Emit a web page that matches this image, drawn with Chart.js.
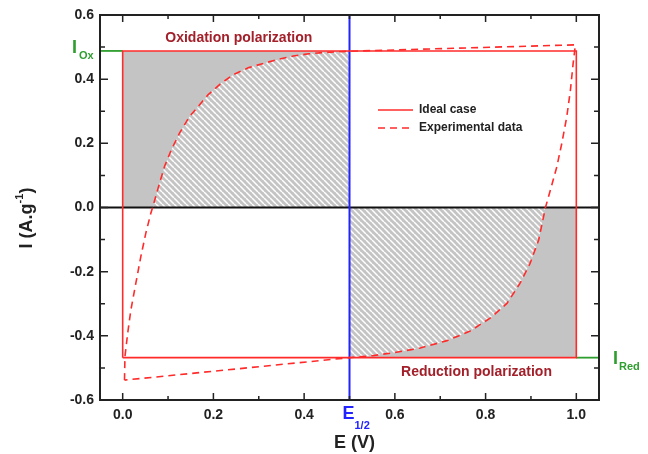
<!DOCTYPE html>
<html>
<head>
<meta charset="utf-8">
<title>Polarization</title>
<script src="https://cdn.jsdelivr.net/npm/chart.js@4.4.1/dist/chart.umd.min.js"></script>
<style>
  body { margin: 0; background: #fff; }
</style>
</head>
<body>
<canvas id="cv" width="648" height="454"></canvas>
<script>
// ideal rectangle (E in V, I in A/g)
var idealE = [0, 0, 1, 1, 0];
var idealI = [-0.468, 0.488, 0.488, -0.468, -0.468];
var iOx = 0.488;
var iRed = -0.468;

// experimental loop
var expE = [0.004, 0.005, 0.011, 0.018, 0.029, 0.040, 0.051, 0.062, 0.066, 0.077, 0.092, 0.107,
            0.125, 0.147, 0.166, 0.188, 0.217, 0.245, 0.278, 0.310, 0.343, 0.376, 0.410, 0.442,
            0.470, 0.500, 0.998, 0.993, 0.987, 0.979, 0.968, 0.957, 0.943, 0.932, 0.917, 0.898,
            0.876, 0.847, 0.810, 0.766, 0.715, 0.656, 0.600, 0.550, 0.500, 0.004];
var expI = [-0.538, -0.465, -0.392, -0.320, -0.236, -0.153, -0.080, -0.018, 0.000, 0.055, 0.127, 0.179,
            0.231, 0.283, 0.314, 0.351, 0.387, 0.415, 0.436, 0.449, 0.462, 0.472, 0.479, 0.483,
            0.485, 0.487, 0.507, 0.449, 0.366, 0.283, 0.200, 0.127, 0.055, 0.000, -0.101, -0.174,
            -0.236, -0.299, -0.345, -0.385, -0.415, -0.438, -0.452, -0.462, -0.468, -0.538];

var xTicks = [0, 0.2, 0.4, 0.6, 0.8, 1.0];
var yTicks = [-0.6, -0.4, -0.2, 0, 0.2, 0.4, 0.6];
var eHalf = 0.5;

var FONT = '"Liberation Sans", Arial, sans-serif';
var RED = '#ff2b2b';
var GREEN = '#2e9e2e';
var BLUE = '#2323ff';
var DARKRED = '#a3202a';

function pts(xs, ys) {
  var out = [];
  for (var i = 0; i < xs.length; i++) out.push({x: xs[i], y: ys[i]});
  return out;
}

var loop = pts(expE, expI);
var hatchTop = loop.filter(function (p) { return p.x <= eHalf && p.y >= 0; });
var hatchBot = loop.filter(function (p) { return p.x >= eHalf && p.y <= 0; }).reverse();

// grey with white "\" stripes
function makeHatch() {
  var c = document.createElement('canvas');
  c.width = 6; c.height = 6;
  var g = c.getContext('2d');
  g.fillStyle = '#c4c4c4';
  g.fillRect(0, 0, 6, 6);
  g.strokeStyle = '#ffffff';
  g.lineWidth = 1.5;
  [-6, 0, 6].forEach(function (x0) {
    g.beginPath(); g.moveTo(x0, 0); g.lineTo(x0 + 6, 6); g.stroke();
  });
  return g.createPattern(c, 'repeat');
}

var ctx = document.getElementById('cv').getContext('2d');
var hatch = makeHatch();

var deco = {
  id: 'deco',
  afterDraw: function (chart) {
    var c = chart.ctx, a = chart.chartArea, x = chart.scales.x, y = chart.scales.y;
    c.save();
    // frame
    c.strokeStyle = '#222';
    c.lineWidth = 2;
    c.strokeRect(a.left, a.top, a.right - a.left, a.bottom - a.top);
    // inward ticks
    c.lineWidth = 1.5;
    c.beginPath();
    for (var i = 0; i <= 10; i++) {
      var px = x.getPixelForValue(i / 10), len = i % 2 === 0 ? 7 : 4;
      c.moveTo(px, a.bottom); c.lineTo(px, a.bottom - len);
      c.moveTo(px, a.top); c.lineTo(px, a.top + len);
    }
    for (var j = -6; j <= 6; j++) {
      var py = y.getPixelForValue(j / 10), l2 = j % 2 === 0 ? 8 : 5;
      c.moveTo(a.left, py); c.lineTo(a.left + l2, py);
      c.moveTo(a.right, py); c.lineTo(a.right - l2, py);
    }
    c.stroke();

    // region labels
    c.fillStyle = DARKRED;
    c.font = 'bold 14px ' + FONT;
    c.textAlign = 'center';
    c.textBaseline = 'middle';
    c.fillText('Oxidation polarization', x.getPixelForValue(0.256), y.getPixelForValue(0.528));
    c.fillText('Reduction polarization', x.getPixelForValue(0.78), y.getPixelForValue(-0.513));

    // legend
    c.textAlign = 'left';
    c.fillStyle = '#222';
    c.font = 'bold 12px ' + FONT;
    c.strokeStyle = RED;
    c.lineWidth = 1.5;
    c.beginPath(); c.moveTo(378, 110); c.lineTo(413, 110); c.stroke();
    c.setLineDash([7, 5]);
    c.beginPath(); c.moveTo(378, 128); c.lineTo(413, 128); c.stroke();
    c.setLineDash([]);
    c.fillText('Ideal case', 419, 110);
    c.fillText('Experimental data', 419, 128);

    // E1/2 label under the blue line
    var ex = x.getPixelForValue(eHalf);
    c.fillStyle = BLUE;
    c.font = 'bold 18px ' + FONT;
    c.textAlign = 'left';
    c.fillText('E', ex - 7, 414);
    c.font = 'bold 11px ' + FONT;
    c.fillText('1/2', ex + 5, 426);

    // I_Ox and I_Red
    c.fillStyle = GREEN;
    c.font = 'bold 18px ' + FONT;
    c.fillText('I', 72, y.getPixelForValue(iOx) - 3);
    c.font = 'bold 11px ' + FONT;
    c.fillText('Ox', 79, y.getPixelForValue(iOx) + 5);
    c.font = 'bold 18px ' + FONT;
    c.fillText('I', 613, y.getPixelForValue(iRed) + 1);
    c.font = 'bold 11px ' + FONT;
    c.fillText('Red', 619, y.getPixelForValue(iRed) + 9);

    // axis titles
    c.fillStyle = '#222';
    c.font = 'bold 18px ' + FONT;
    c.textAlign = 'center';
    c.fillText('E (V)', (a.left + a.right) / 2 + 5, 443);

    c.translate(27, 218);
    c.rotate(-Math.PI / 2);
    c.textAlign = 'left';
    var t1 = 'I (A.g', t3 = ')';
    c.font = 'bold 18px ' + FONT;
    var w1 = c.measureText(t1).width, w3 = c.measureText(t3).width;
    c.font = 'bold 11px ' + FONT;
    var w2 = c.measureText('-1').width;
    var x0 = -(w1 + w2 + w3) / 2;
    c.font = 'bold 18px ' + FONT;
    c.fillText(t1, x0, 0);
    c.font = 'bold 11px ' + FONT;
    c.fillText('-1', x0 + w1, -7);
    c.font = 'bold 18px ' + FONT;
    c.fillText(t3, x0 + w1 + w2, 0);
    c.restore();
  }
};

var line = {pointRadius: 0, tension: 0, fill: false};

new Chart(ctx, {
  type: 'line',
  data: {
    datasets: [
      Object.assign({}, line, {
        data: pts([0, eHalf], [iOx, iOx]), fill: 'origin',
        backgroundColor: '#c4c4c4', borderWidth: 0, order: 7
      }),
      Object.assign({}, line, {
        data: pts([eHalf, 1], [iRed, iRed]), fill: 'origin',
        backgroundColor: '#c4c4c4', borderWidth: 0, order: 7
      }),
      Object.assign({}, line, {
        data: hatchTop, fill: 'origin', backgroundColor: hatch, borderWidth: 0, order: 6
      }),
      Object.assign({}, line, {
        data: hatchBot, fill: 'origin', backgroundColor: hatch, borderWidth: 0, order: 6
      }),
      Object.assign({}, line, {
        data: pts([-0.05, 1.05], [0, 0]), borderColor: '#111', borderWidth: 2, order: 5
      }),
      Object.assign({}, line, {
        data: pts([eHalf, eHalf], [-0.6, 0.6]), borderColor: BLUE, borderWidth: 2, order: 4
      }),
      Object.assign({}, line, {
        data: pts([-0.05, 0], [iOx, iOx]), borderColor: GREEN, borderWidth: 1.8, order: 4
      }),
      Object.assign({}, line, {
        data: pts([1, 1.05], [iRed, iRed]), borderColor: GREEN, borderWidth: 1.8, order: 4
      }),
      Object.assign({}, line, {
        label: 'Ideal case', data: pts(idealE, idealI),
        borderColor: RED, borderWidth: 1.6, order: 2
      }),
      Object.assign({}, line, {
        label: 'Experimental data', data: loop,
        borderColor: RED, borderWidth: 1.6, borderDash: [7, 5], order: 1
      })
    ]
  },
  options: {
    responsive: false,
    animation: false,
    layout: {padding: {top: 15, right: 49, left: 0, bottom: 0}},
    plugins: {legend: {display: false}, tooltip: {enabled: false}},
    scales: {
      x: {
        type: 'linear', min: -0.05, max: 1.05,
        grid: {display: false, drawTicks: false},
        border: {display: false},
        afterBuildTicks: function (s) { s.ticks = xTicks.map(function (v) { return {value: v}; }); },
        afterFit: function (s) { s.height = 54; },
        ticks: {
          autoSkip: false, padding: 7, color: '#222',
          font: {family: FONT, size: 14, weight: 'bold'},
          callback: function (v) { return v.toFixed(1); }
        }
      },
      y: {
        type: 'linear', min: -0.6, max: 0.6,
        grid: {display: false, drawTicks: false},
        border: {display: false},
        afterBuildTicks: function (s) { s.ticks = yTicks.map(function (v) { return {value: v}; }); },
        afterFit: function (s) { s.width = 100; },
        ticks: {
          autoSkip: false, padding: 6, color: '#222',
          font: {family: FONT, size: 14, weight: 'bold'},
          callback: function (v) { return v.toFixed(1); }
        }
      }
    }
  },
  plugins: [deco]
});
</script>
</body>
</html>
